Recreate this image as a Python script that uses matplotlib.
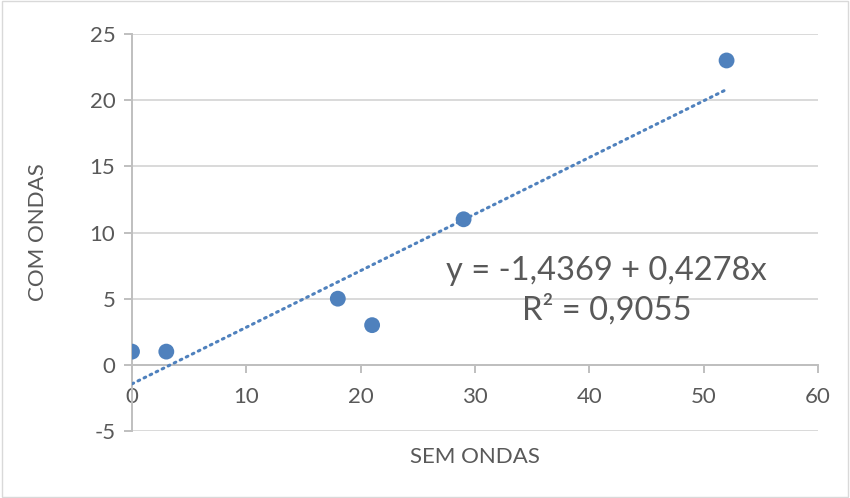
import numpy as np
import matplotlib
matplotlib.use('Agg')
from matplotlib import pyplot as plt
from matplotlib.patches import Rectangle

# data
sem_ondas = [0, 3, 18, 21, 29, 52]
com_ondas = [1, 1, 5, 3, 11, 23]
x_ticks = [0, 10, 20, 30, 40, 50, 60]
y_ticks = [-5, 0, 5, 10, 15, 20, 25]
eq_text = "y = -1,4369 + 0,4278x\nR² = 0,9055"

BLUE = '#4F81BD'
TEXT = '#595959'
GRID = '#D9D9D9'
AXIS = '#BFBFBF'

plt.rcParams['font.family'] = ['Lato', 'DejaVu Sans']
plt.rcParams['axes.unicode_minus'] = False

fig = plt.figure(figsize=(8.5, 4.98), dpi=100)
ax = fig.add_axes([0.1553, 0.1345, 0.8071, 0.7972])

# trendline (linear least squares)
slope, intercept = np.polyfit(sem_ondas, com_ondas, 1)
tx = np.array([0, max(sem_ondas)])
ax.plot(tx, intercept + slope * tx, color=BLUE, lw=2.2, ls=(0, (0.6, 1.6)),
        dash_capstyle='round', zorder=3)

ax.scatter(sem_ondas, com_ondas, s=130, color=BLUE, edgecolors='none', zorder=4)

ax.set_xlim(0, 60)
ax.set_ylim(-5, 25)
ax.set_xticks(x_ticks)
ax.set_yticks(y_ticks)
ax.yaxis.grid(True, color=GRID, lw=1.4)
ax.set_axisbelow(True)

for s in ['top', 'right']:
    ax.spines[s].set_visible(False)
ax.spines['bottom'].set_position(('data', 0))
ax.spines['bottom'].set_color(AXIS)
ax.spines['left'].set_color(AXIS)
ax.spines['bottom'].set_linewidth(1.4)
ax.spines['left'].set_linewidth(1.4)
ax.tick_params(axis='both', colors=AXIS, labelcolor=TEXT, labelsize=16,
               length=6, width=1.4)
ax.tick_params(axis='x', pad=10)
ax.tick_params(axis='y', pad=6)

ax.set_xlabel("SEM ONDAS", color=TEXT, fontsize=16, labelpad=29)
ax.set_ylabel("COM ONDAS", color=TEXT, fontsize=16, labelpad=30)

ax.text(41.5, 5.6, eq_text, color=TEXT, fontsize=23.5, ha='center',
        va='center', linespacing=1.32)

# chart area border
fig.patches.append(Rectangle((0.002, 0.003), 0.996, 0.994, transform=fig.transFigure,
                             fill=False, edgecolor='#D9D9D9', lw=1))

fig.savefig('out.png', dpi=100)
